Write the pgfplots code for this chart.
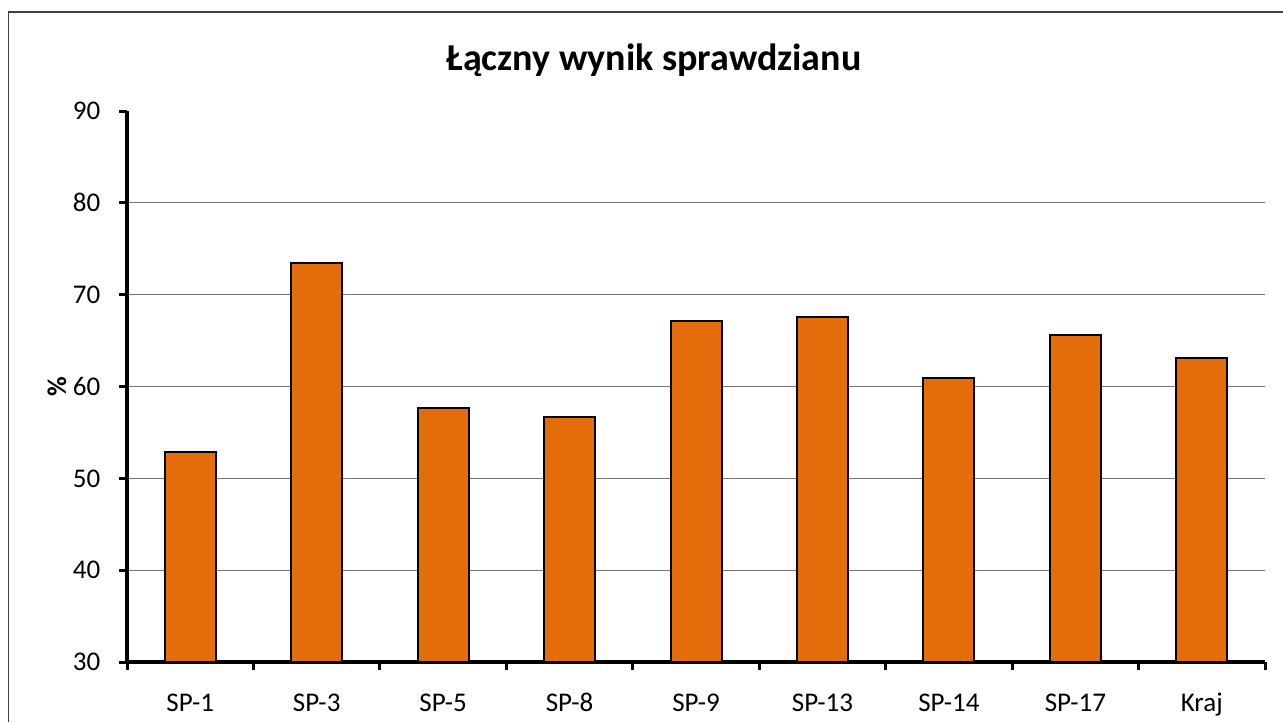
\documentclass[border=0pt]{standalone}
\usepackage{pgfplots}
\pgfplotsset{compat=1.18}
\usepackage{fontspec}
\setmainfont{Carlito}
\definecolor{barorange}{RGB}{228,108,10}
\begin{document}
\begin{tikzpicture}
\useasboundingbox (0,0) rectangle (641.5pt,361pt);
\draw[color=black!75, line width=0.6pt] (4.2pt,0) -- (4.2pt,355pt) -- (641.5pt,355pt);
\node[font=\bfseries\fontsize{19}{23}\selectfont] at (327pt,331pt) {Łączny wynik sprawdzianu};
\begin{axis}[
  at={(63.5pt,30pt)}, anchor=south west,
  scale only axis, width=569pt, height=275.5pt,
  xmin=-0.5, xmax=8.5, ymin=30, ymax=90,
  axis x line*=bottom, axis y line*=left,
  axis line style={line width=1.75pt, -},
  tick align=outside, major tick length=3.8pt,
  ytick={30,40,50,60,70,80},
  extra y ticks={90}, extra y tick style={grid=none},
  ymajorgrids, grid style={black!55, line width=0.6pt},
  ytick style={line width=1.5pt, black},
  xtick={0,...,8},
  xticklabels={SP-1,SP-3,SP-5,SP-8,SP-9,SP-13,SP-14,SP-17,Kraj},
  xtick style={draw=none},
  extra x ticks={-0.5,0.5,1.5,2.5,3.5,4.5,5.5,6.5,7.5,8.5},
  extra x tick labels={},
  extra x tick style={xtick style={draw=black, line width=1.5pt}, grid=none},
  tick label style={font=\fontsize{13.5}{16}\selectfont, text=black},
  /pgf/number format/assume math mode=true,
  yticklabel style={xshift=-6pt},
  xticklabel style={anchor=base, yshift=-21pt},
  ylabel={\%},
  ylabel style={font=\bfseries\fontsize{13.5}{16}\selectfont, at={(rel axis cs:0,0.5)}, anchor=center, rotate=0, yshift=35pt},
  ybar, bar width=25.5pt,
  clip=false,
]
\addplot[fill=barorange, draw=black, line width=1pt] coordinates {
  (0,52.9) (1,73.5) (2,57.7) (3,56.7) (4,67.1) (5,67.6) (6,60.9) (7,65.6) (8,63.1)
};
\end{axis}
\end{tikzpicture}
\end{document}
